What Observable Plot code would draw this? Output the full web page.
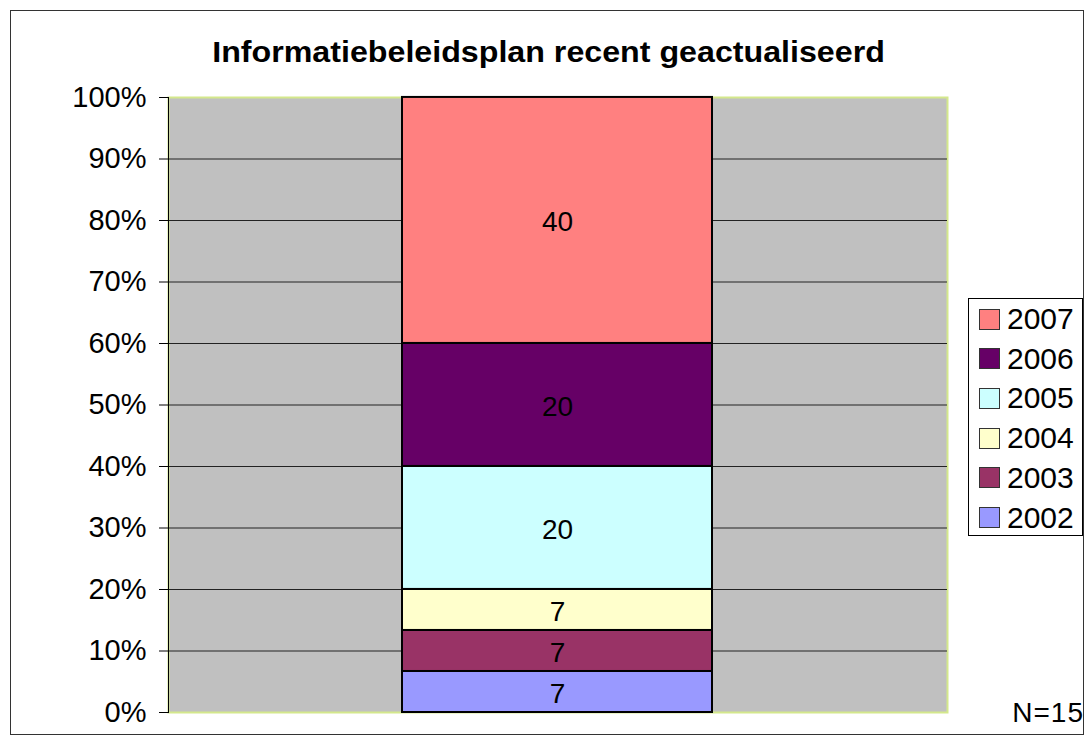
<!DOCTYPE html>
<html>
<head>
<meta charset="utf-8">
<script src="https://cdn.jsdelivr.net/npm/d3@7"></script>
<script src="https://cdn.jsdelivr.net/npm/@observablehq/plot@0.6"></script>
<style>
  html, body { margin: 0; padding: 0; background: #fff; }
  #wrap { position: relative; width: 1088px; height: 742px; font-family: "Liberation Sans", Arial, sans-serif; color: #000; }
  #border { position: absolute; left: 10px; top: 10px; width: 1072px; height: 723px; border: 1px solid #333; box-sizing: content-box; }
  #title { position: absolute; left: 0; top: 38px; width: 1097px; text-align: center; font-weight: bold; font-size: 29px; line-height: 29px; transform: scaleX(1.11); transform-origin: 548px 0; }
  #chart { position: absolute; left: 0; top: 0; }
  #legend { position: absolute; left: 968px; top: 298px; width: 113px; height: 236px; border: 1px solid #000; background: #fff; }
  .row { position: absolute; left: 10px; height: 30px; display: flex; align-items: center; font-size: 30px; line-height: 30px; }
  .sw { width: 19px; height: 19px; border: 1px solid #333; margin-right: 7px; }
  #note { position: absolute; right: 4px; top: 699px; font-size: 28px; line-height: 28px; letter-spacing: 1px; }
</style>
</head>
<body>
<div id="wrap">
  <div id="border"></div>
  <div id="chart"></div>
  <div id="title"></div>
  <div id="legend"></div>
  <div id="note"></div>
</div>
<script>
const title = "Informatiebeleidsplan recent geactualiseerd";
const category = "Informatiebeleidsplan";
const years = ["2002", "2003", "2004", "2005", "2006", "2007"];
const percents = [6.67, 6.67, 6.67, 20, 20, 40];
const labels = ["7", "7", "7", "20", "20", "40"];
const colors = ["#9999FF", "#993366", "#FFFFCC", "#CCFFFF", "#660066", "#FF8080"];
const yTicks = [0, 10, 20, 30, 40, 50, 60, 70, 80, 90, 100];
const gridTicks = [10, 20, 30, 40, 50, 60, 70, 80, 90];
const note = "N=15";

const data = years.map((y, i) => ({cat: category, year: y, value: percents[i], label: labels[i]}));

const plot = Plot.plot({
  width: 1088,
  height: 742,
  marginLeft: 168,
  marginRight: 141,
  marginTop: 97,
  marginBottom: 30,
  style: {fontFamily: "'Liberation Sans', Arial, sans-serif", fontSize: "28px", background: "transparent", color: "#000"},
  x: {type: "band", domain: [category], padding: 0.43, axis: null},
  y: {domain: [0, 100], ticks: yTicks, tickFormat: d => d + "%", tickSize: 9, tickPadding: 13, label: null},
  color: {domain: years, range: colors},
  marks: [
    Plot.frame({fill: "#C0C0C0", stroke: "#D4E88C", strokeWidth: 2}),
    Plot.ruleY(gridTicks, {stroke: "#222", strokeWidth: 1}),
    Plot.frame({anchor: "left", stroke: "#000", strokeWidth: 1}),
    Plot.barY(data, {x: "cat", y: "value", fill: "year", stroke: "#000", strokeWidth: 2}),
    Plot.text(data, Plot.stackY({x: "cat", y: "value", text: "label", fill: "#000", fontSize: 28, dy: 2})),
    Plot.axisY({ticks: yTicks, tickFormat: d => d + "%", tickSize: 9, tickPadding: 13, fontSize: 29, label: null})
  ]
});
document.getElementById("chart").appendChild(plot);
document.getElementById("title").textContent = title;
document.getElementById("note").textContent = note;

const legend = document.getElementById("legend");
years.slice().reverse().forEach((y, i) => {
  const row = document.createElement("div");
  row.className = "row";
  row.style.top = (5 + i * 39.7) + "px";
  const sw = document.createElement("div");
  sw.className = "sw";
  sw.style.background = colors[years.indexOf(y)];
  const t = document.createElement("span");
  t.textContent = y;
  row.appendChild(sw);
  row.appendChild(t);
  legend.appendChild(row);
});
</script>
</body>
</html>
